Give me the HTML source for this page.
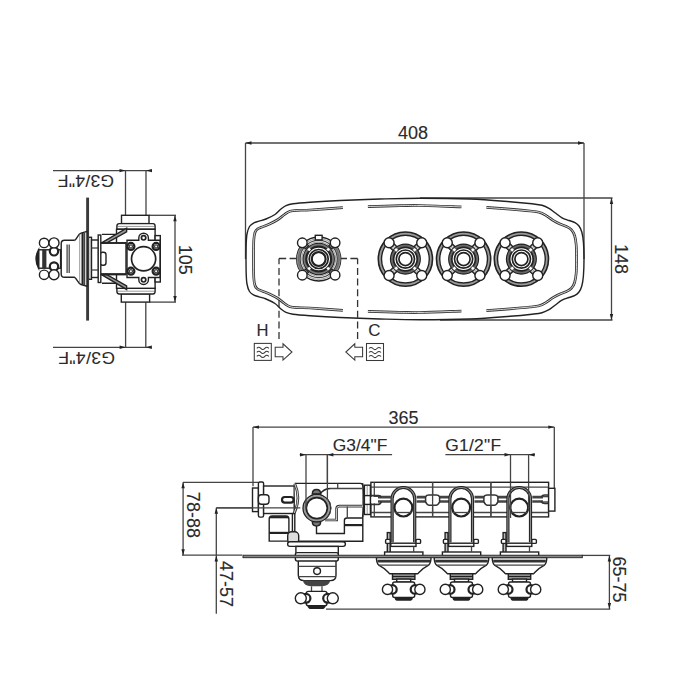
<!DOCTYPE html>
<html><head><meta charset="utf-8"><style>
html,body{margin:0;padding:0;background:#fff;width:700px;height:700px;overflow:hidden}
svg{display:block}
text{font-family:"Liberation Sans",sans-serif;fill:#2a2a2a;stroke:#2a2a2a;stroke-width:0.12}
.s{stroke:#222;stroke-width:1.4}
.t{stroke:#444;stroke-width:1.3;fill:none}
.k{stroke:#222;stroke-width:2.2}
.d{stroke:#333;stroke-width:2.7}
.dw{stroke:#fff;stroke-width:0.8;fill:none}
.h{stroke:#555;stroke-width:0.6}
.n{stroke:none}
.i{stroke:#3a3a3a;stroke-width:1.05}
.w{stroke:#333;stroke-width:2.3}
.m{stroke:#222;stroke-width:1.7}
.dashv{stroke:#333;stroke-width:1.3;fill:none;stroke-dasharray:7 3.7;stroke-dashoffset:1.3}
.dash{stroke:#333;stroke-width:1.3;fill:none;stroke-dasharray:7.2 3.4}
</style></head><body>
<svg width="700" height="700" viewBox="0 0 700 700">
<line x1="245.50" y1="143.00" x2="584.00" y2="143.00" class="t"/>
<path d="M245.50,143.00 L251.50,141.30 L251.50,144.70 Z" fill="#222"/>
<path d="M584.00,143.00 L578.00,144.70 L578.00,141.30 Z" fill="#222"/>
<line x1="245.50" y1="143.00" x2="245.50" y2="259.00" class="t"/>
<line x1="584.00" y1="143.00" x2="584.00" y2="259.00" class="t"/>
<text x="413.00" y="139.00" font-size="18.00" text-anchor="middle">408</text>
<line x1="420.00" y1="198.00" x2="612.50" y2="198.00" class="t"/>
<line x1="440.00" y1="320.00" x2="612.50" y2="320.00" class="t"/>
<line x1="611.50" y1="198.00" x2="611.50" y2="320.00" class="t"/>
<path d="M611.50,198.00 L613.20,204.00 L609.80,204.00 Z" fill="#222"/>
<path d="M611.50,320.00 L609.80,314.00 L613.20,314.00 Z" fill="#222"/>
<text x="615.00" y="259.00" font-size="18.00" text-anchor="middle" transform="rotate(90 615 259)">148</text>
<path d="M246.00,259.00 C246.03,256.50 246.03,248.17 246.20,244.00 C246.37,239.83 246.45,236.92 247.00,234.00 C247.55,231.08 248.33,228.37 249.50,226.50 C250.67,224.63 252.42,223.68 254.00,222.80 C255.58,221.92 257.00,221.83 259.00,221.20 C261.00,220.57 263.33,220.12 266.00,219.00 C268.67,217.88 272.50,216.17 275.00,214.50 C277.50,212.83 279.17,210.48 281.00,209.00 C282.83,207.52 284.00,206.47 286.00,205.60 C288.00,204.73 289.00,204.35 293.00,203.80 C297.00,203.25 302.17,202.85 310.00,202.30 C317.83,201.75 328.33,201.05 340.00,200.50 C351.67,199.95 366.67,199.38 380.00,199.00 C393.33,198.62 405.00,198.20 420.00,198.20 C435.00,198.20 455.00,198.42 470.00,199.00 C485.00,199.58 499.67,200.90 510.00,201.70 C520.33,202.50 526.67,203.20 532.00,203.80 C537.33,204.40 539.17,204.55 542.00,205.30 C544.83,206.05 546.83,207.05 549.00,208.30 C551.17,209.55 552.83,211.22 555.00,212.80 C557.17,214.38 559.67,216.52 562.00,217.80 C564.33,219.08 566.83,219.70 569.00,220.50 C571.17,221.30 573.33,221.68 575.00,222.60 C576.67,223.52 577.87,224.43 579.00,226.00 C580.13,227.57 581.07,229.33 581.80,232.00 C582.53,234.67 583.03,237.50 583.40,242.00 C583.77,246.50 584.00,253.33 584.00,259.00 C584.00,264.67 583.77,271.50 583.40,276.00 C583.03,280.50 582.53,283.33 581.80,286.00 C581.07,288.67 580.13,290.43 579.00,292.00 C577.87,293.57 576.67,294.48 575.00,295.40 C573.33,296.32 571.17,296.70 569.00,297.50 C566.83,298.30 564.33,298.92 562.00,300.20 C559.67,301.48 557.17,303.62 555.00,305.20 C552.83,306.78 551.17,308.45 549.00,309.70 C546.83,310.95 544.83,311.95 542.00,312.70 C539.17,313.45 537.33,313.60 532.00,314.20 C526.67,314.80 520.33,315.50 510.00,316.30 C499.67,317.10 485.00,318.42 470.00,319.00 C455.00,319.58 435.00,319.80 420.00,319.80 C405.00,319.80 393.33,319.38 380.00,319.00 C366.67,318.62 351.67,318.05 340.00,317.50 C328.33,316.95 317.83,316.25 310.00,315.70 C302.17,315.15 297.00,314.75 293.00,314.20 C289.00,313.65 288.00,313.27 286.00,312.40 C284.00,311.53 282.83,310.48 281.00,309.00 C279.17,307.52 277.50,305.17 275.00,303.50 C272.50,301.83 268.67,300.12 266.00,299.00 C263.33,297.88 261.00,297.43 259.00,296.80 C257.00,296.17 255.58,296.08 254.00,295.20 C252.42,294.32 250.67,293.37 249.50,291.50 C248.33,289.63 247.55,286.92 247.00,284.00 C246.45,281.08 246.37,278.17 246.20,274.00 C246.03,269.83 246.03,261.50 246.00,259.00 C245.97,256.50 245.97,261.50 246.00,259.00Z" class="s" fill="none"/>
<path d="M342.90,207.60 C337.42,208.00 317.48,209.55 310.00,210.00 C302.52,210.45 301.33,210.08 298.00,210.30 C294.67,210.52 292.25,210.60 290.00,211.30 C287.75,212.00 286.50,213.13 284.50,214.50 C282.50,215.87 280.42,217.95 278.00,219.50 C275.58,221.05 272.67,222.55 270.00,223.80 C267.33,225.05 264.08,226.13 262.00,227.00 C259.92,227.87 258.67,228.08 257.50,229.00 C256.33,229.92 255.62,230.67 255.00,232.50 C254.38,234.33 254.05,235.58 253.80,240.00 C253.55,244.42 253.50,252.67 253.50,259.00 C253.50,265.33 253.55,273.58 253.80,278.00 C254.05,282.42 254.38,283.67 255.00,285.50 C255.62,287.33 256.33,288.08 257.50,289.00 C258.67,289.92 259.92,290.13 262.00,291.00 C264.08,291.87 267.33,292.95 270.00,294.20 C272.67,295.45 275.58,296.95 278.00,298.50 C280.42,300.05 282.50,302.13 284.50,303.50 C286.50,304.87 287.75,306.00 290.00,306.70 C292.25,307.40 294.67,307.48 298.00,307.70 C301.33,307.92 302.52,307.55 310.00,308.00 C317.48,308.45 337.42,310.00 342.90,310.40" class="d" fill="none"/>
<path d="M342.90,207.60 C337.42,208.00 317.48,209.55 310.00,210.00 C302.52,210.45 301.33,210.08 298.00,210.30 C294.67,210.52 292.25,210.60 290.00,211.30 C287.75,212.00 286.50,213.13 284.50,214.50 C282.50,215.87 280.42,217.95 278.00,219.50 C275.58,221.05 272.67,222.55 270.00,223.80 C267.33,225.05 264.08,226.13 262.00,227.00 C259.92,227.87 258.67,228.08 257.50,229.00 C256.33,229.92 255.62,230.67 255.00,232.50 C254.38,234.33 254.05,235.58 253.80,240.00 C253.55,244.42 253.50,252.67 253.50,259.00 C253.50,265.33 253.55,273.58 253.80,278.00 C254.05,282.42 254.38,283.67 255.00,285.50 C255.62,287.33 256.33,288.08 257.50,289.00 C258.67,289.92 259.92,290.13 262.00,291.00 C264.08,291.87 267.33,292.95 270.00,294.20 C272.67,295.45 275.58,296.95 278.00,298.50 C280.42,300.05 282.50,302.13 284.50,303.50 C286.50,304.87 287.75,306.00 290.00,306.70 C292.25,307.40 294.67,307.48 298.00,307.70 C301.33,307.92 302.52,307.55 310.00,308.00 C317.48,308.45 337.42,310.00 342.90,310.40" class="dw" fill="none"/>
<path d="M367.90,206.60 C373.25,206.45 391.32,205.88 400.00,205.70 C408.68,205.52 409.77,205.30 420.00,205.50 C430.23,205.70 454.50,206.67 461.40,206.90" class="d" fill="none"/>
<path d="M367.90,311.40 C373.25,311.55 391.32,312.12 400.00,312.30 C408.68,312.48 409.77,312.70 420.00,312.50 C430.23,312.30 454.50,311.33 461.40,311.10" class="d" fill="none"/>
<path d="M367.90,206.60 C373.25,206.45 391.32,205.88 400.00,205.70 C408.68,205.52 409.77,205.30 420.00,205.50 C430.23,205.70 454.50,206.67 461.40,206.90" class="dw" fill="none"/>
<path d="M367.90,311.40 C373.25,311.55 391.32,312.12 400.00,312.30 C408.68,312.48 409.77,312.70 420.00,312.50 C430.23,312.30 454.50,311.33 461.40,311.10" class="dw" fill="none"/>
<path d="M486.40,207.40 C490.33,207.70 502.73,208.60 510.00,209.20 C517.27,209.80 525.17,210.50 530.00,211.00 C534.83,211.50 536.50,211.57 539.00,212.20 C541.50,212.83 542.67,213.45 545.00,214.80 C547.33,216.15 550.50,218.77 553.00,220.30 C555.50,221.83 557.75,222.97 560.00,224.00 C562.25,225.03 564.58,225.53 566.50,226.50 C568.42,227.47 570.15,228.30 571.50,229.80 C572.85,231.30 573.82,232.97 574.60,235.50 C575.38,238.03 575.88,241.08 576.20,245.00 C576.52,248.92 576.50,254.33 576.50,259.00 C576.50,263.67 576.52,269.08 576.20,273.00 C575.88,276.92 575.38,279.97 574.60,282.50 C573.82,285.03 572.85,286.70 571.50,288.20 C570.15,289.70 568.42,290.53 566.50,291.50 C564.58,292.47 562.25,292.97 560.00,294.00 C557.75,295.03 555.50,296.17 553.00,297.70 C550.50,299.23 547.33,301.85 545.00,303.20 C542.67,304.55 541.50,305.17 539.00,305.80 C536.50,306.43 534.83,306.50 530.00,307.00 C525.17,307.50 517.27,308.20 510.00,308.80 C502.73,309.40 490.33,310.30 486.40,310.60" class="d" fill="none"/>
<path d="M486.40,207.40 C490.33,207.70 502.73,208.60 510.00,209.20 C517.27,209.80 525.17,210.50 530.00,211.00 C534.83,211.50 536.50,211.57 539.00,212.20 C541.50,212.83 542.67,213.45 545.00,214.80 C547.33,216.15 550.50,218.77 553.00,220.30 C555.50,221.83 557.75,222.97 560.00,224.00 C562.25,225.03 564.58,225.53 566.50,226.50 C568.42,227.47 570.15,228.30 571.50,229.80 C572.85,231.30 573.82,232.97 574.60,235.50 C575.38,238.03 575.88,241.08 576.20,245.00 C576.52,248.92 576.50,254.33 576.50,259.00 C576.50,263.67 576.52,269.08 576.20,273.00 C575.88,276.92 575.38,279.97 574.60,282.50 C573.82,285.03 572.85,286.70 571.50,288.20 C570.15,289.70 568.42,290.53 566.50,291.50 C564.58,292.47 562.25,292.97 560.00,294.00 C557.75,295.03 555.50,296.17 553.00,297.70 C550.50,299.23 547.33,301.85 545.00,303.20 C542.67,304.55 541.50,305.17 539.00,305.80 C536.50,306.43 534.83,306.50 530.00,307.00 C525.17,307.50 517.27,308.20 510.00,308.80 C502.73,309.40 490.33,310.30 486.40,310.60" class="dw" fill="none"/>
<path d="M279,258.5 H297" class="dash" fill="none"/>
<path d="M279,258.5 V341" class="dashv" fill="none"/>
<path d="M357.6,258.5 H341" class="dash" fill="none"/>
<path d="M357.6,258.5 V341" class="dashv" fill="none"/>
<circle cx="318.70" cy="259.00" r="22.00" class="s" fill="#fff"/>
<path d="M300.68,271.62 A22.00,22.00 0 0 1 300.68,246.38 L303.14,248.10 A19.00,19.00 0 0 0 303.14,269.90 Z" fill="#8a8a8a"/>
<path d="M336.72,246.38 A22.00,22.00 0 0 1 336.72,271.62 L334.26,269.90 A19.00,19.00 0 0 0 334.26,248.10 Z" fill="#8a8a8a"/>
<circle cx="318.70" cy="259.00" r="20.30" class="h" fill="none"/>
<circle cx="318.70" cy="259.00" r="18.60" class="t" fill="none"/>
<circle cx="318.70" cy="259.00" r="17.00" class="h" fill="none"/>
<circle cx="318.70" cy="259.00" r="15.40" class="m" fill="none"/>
<circle cx="318.70" cy="259.00" r="13.9" fill="none" stroke="#777" stroke-width="2.6"/>
<circle cx="318.70" cy="259.00" r="12.40" class="k" fill="none"/>
<circle cx="318.70" cy="259.00" r="9.50" class="m" fill="none"/>
<circle cx="318.70" cy="259.00" r="6.90" class="k" fill="none"/>
<circle cx="318.70" cy="259.00" r="5.50" class="n" fill="#fff"/>
<rect x="326.88" y="267.18" width="2.6" height="2.6" fill="#fff" transform="rotate(45 328.18 268.48)"/>
<path d="M328.88,272.15 L332.06,275.33 L335.03,272.36 L331.85,269.18 Z" class="s" fill="#fff"/>
<line x1="331.36" y1="269.68" x2="334.54" y2="272.86" class="h"/>
<line x1="330.70" y1="270.34" x2="333.88" y2="273.52" class="h"/>
<line x1="330.04" y1="271.00" x2="333.22" y2="274.18" class="h"/>
<line x1="329.38" y1="271.66" x2="332.56" y2="274.84" class="h"/>
<rect x="307.92" y="267.18" width="2.6" height="2.6" fill="#fff" transform="rotate(45 309.22 268.48)"/>
<path d="M305.55,269.18 L302.37,272.36 L305.34,275.33 L308.52,272.15 Z" class="s" fill="#fff"/>
<line x1="308.02" y1="271.66" x2="304.84" y2="274.84" class="h"/>
<line x1="307.36" y1="271.00" x2="304.18" y2="274.18" class="h"/>
<line x1="306.70" y1="270.34" x2="303.52" y2="273.52" class="h"/>
<line x1="306.04" y1="269.68" x2="302.86" y2="272.86" class="h"/>
<rect x="307.92" y="248.22" width="2.6" height="2.6" fill="#fff" transform="rotate(45 309.22 249.52)"/>
<path d="M308.52,245.85 L305.34,242.67 L302.37,245.64 L305.55,248.82 Z" class="s" fill="#fff"/>
<line x1="306.04" y1="248.32" x2="302.86" y2="245.14" class="h"/>
<line x1="306.70" y1="247.66" x2="303.52" y2="244.48" class="h"/>
<line x1="307.36" y1="247.00" x2="304.18" y2="243.82" class="h"/>
<line x1="308.02" y1="246.34" x2="304.84" y2="243.16" class="h"/>
<rect x="326.88" y="248.22" width="2.6" height="2.6" fill="#fff" transform="rotate(45 328.18 249.52)"/>
<path d="M331.85,248.82 L335.03,245.64 L332.06,242.67 L328.88,245.85 Z" class="s" fill="#fff"/>
<line x1="329.38" y1="246.34" x2="332.56" y2="243.16" class="h"/>
<line x1="330.04" y1="247.00" x2="333.22" y2="243.82" class="h"/>
<line x1="330.70" y1="247.66" x2="333.88" y2="244.48" class="h"/>
<line x1="331.36" y1="248.32" x2="334.54" y2="245.14" class="h"/>
<circle cx="302.30" cy="242.80" r="4.80" class="s" fill="#fff"/>
<circle cx="335.10" cy="242.80" r="4.80" class="s" fill="#fff"/>
<circle cx="302.30" cy="275.20" r="4.80" class="s" fill="#fff"/>
<circle cx="335.10" cy="275.20" r="4.80" class="s" fill="#fff"/>
<rect x="315.30" y="235.30" width="6.80" height="4.60" rx="0.00" class="s" fill="#fff"/>
<circle cx="405.40" cy="259.10" r="26.80" class="k" fill="#fff"/>
<circle cx="405.40" cy="259.10" r="25.3" fill="none" stroke="#999" stroke-width="2"/>
<circle cx="405.40" cy="259.10" r="23.90" class="s" fill="none"/>
<path d="M412.68,270.20 L418.34,275.86 L422.16,272.04 L416.50,266.38 Z" class="s" fill="#fff"/>
<line x1="415.87" y1="267.02" x2="421.52" y2="272.68" class="h"/>
<line x1="415.02" y1="267.87" x2="420.67" y2="273.52" class="h"/>
<line x1="414.17" y1="268.72" x2="419.82" y2="274.37" class="h"/>
<line x1="413.32" y1="269.57" x2="418.98" y2="275.22" class="h"/>
<path d="M394.30,266.38 L388.64,272.04 L392.46,275.86 L398.12,270.20 Z" class="s" fill="#fff"/>
<line x1="397.48" y1="269.57" x2="391.82" y2="275.22" class="h"/>
<line x1="396.63" y1="268.72" x2="390.98" y2="274.37" class="h"/>
<line x1="395.78" y1="267.87" x2="390.13" y2="273.52" class="h"/>
<line x1="394.93" y1="267.02" x2="389.28" y2="272.68" class="h"/>
<path d="M398.12,248.00 L392.46,242.34 L388.64,246.16 L394.30,251.82 Z" class="s" fill="#fff"/>
<line x1="394.93" y1="251.18" x2="389.28" y2="245.52" class="h"/>
<line x1="395.78" y1="250.33" x2="390.13" y2="244.68" class="h"/>
<line x1="396.63" y1="249.48" x2="390.98" y2="243.83" class="h"/>
<line x1="397.48" y1="248.63" x2="391.82" y2="242.98" class="h"/>
<path d="M416.50,251.82 L422.16,246.16 L418.34,242.34 L412.68,248.00 Z" class="s" fill="#fff"/>
<line x1="413.32" y1="248.63" x2="418.98" y2="242.98" class="h"/>
<line x1="414.17" y1="249.48" x2="419.82" y2="243.83" class="h"/>
<line x1="415.02" y1="250.33" x2="420.67" y2="244.68" class="h"/>
<line x1="415.87" y1="251.18" x2="421.52" y2="245.52" class="h"/>
<circle cx="405.40" cy="259.10" r="14.70" class="m" fill="#fff"/>
<circle cx="405.40" cy="259.10" r="13.20" class="n" fill="none"/>
<circle cx="405.40" cy="259.10" r="13.2" fill="none" stroke="#666" stroke-width="2.4"/>
<circle cx="405.40" cy="259.10" r="11.80" class="m" fill="none"/>
<rect x="413.16" y="266.86" width="3" height="3" fill="#fff" stroke="#333" stroke-width="0.4" transform="rotate(45 414.66 268.36)"/>
<rect x="394.64" y="266.86" width="3" height="3" fill="#fff" stroke="#333" stroke-width="0.4" transform="rotate(45 396.14 268.36)"/>
<rect x="394.64" y="248.34" width="3" height="3" fill="#fff" stroke="#333" stroke-width="0.4" transform="rotate(45 396.14 249.84)"/>
<rect x="413.16" y="248.34" width="3" height="3" fill="#fff" stroke="#333" stroke-width="0.4" transform="rotate(45 414.66 249.84)"/>
<circle cx="405.40" cy="259.10" r="9.10" class="m" fill="none"/>
<circle cx="405.40" cy="259.10" r="6.50" class="m" fill="#fff"/>
<circle cx="421.73" cy="275.43" r="5.00" class="s" fill="#fff"/>
<circle cx="389.07" cy="275.43" r="5.00" class="s" fill="#fff"/>
<circle cx="389.07" cy="242.77" r="5.00" class="s" fill="#fff"/>
<circle cx="421.73" cy="242.77" r="5.00" class="s" fill="#fff"/>
<circle cx="463.60" cy="259.10" r="26.80" class="k" fill="#fff"/>
<circle cx="463.60" cy="259.10" r="25.3" fill="none" stroke="#999" stroke-width="2"/>
<circle cx="463.60" cy="259.10" r="23.90" class="s" fill="none"/>
<path d="M470.88,270.20 L476.54,275.86 L480.36,272.04 L474.70,266.38 Z" class="s" fill="#fff"/>
<line x1="474.07" y1="267.02" x2="479.72" y2="272.68" class="h"/>
<line x1="473.22" y1="267.87" x2="478.87" y2="273.52" class="h"/>
<line x1="472.37" y1="268.72" x2="478.02" y2="274.37" class="h"/>
<line x1="471.52" y1="269.57" x2="477.18" y2="275.22" class="h"/>
<path d="M452.50,266.38 L446.84,272.04 L450.66,275.86 L456.32,270.20 Z" class="s" fill="#fff"/>
<line x1="455.68" y1="269.57" x2="450.02" y2="275.22" class="h"/>
<line x1="454.83" y1="268.72" x2="449.18" y2="274.37" class="h"/>
<line x1="453.98" y1="267.87" x2="448.33" y2="273.52" class="h"/>
<line x1="453.13" y1="267.02" x2="447.48" y2="272.68" class="h"/>
<path d="M456.32,248.00 L450.66,242.34 L446.84,246.16 L452.50,251.82 Z" class="s" fill="#fff"/>
<line x1="453.13" y1="251.18" x2="447.48" y2="245.52" class="h"/>
<line x1="453.98" y1="250.33" x2="448.33" y2="244.68" class="h"/>
<line x1="454.83" y1="249.48" x2="449.18" y2="243.83" class="h"/>
<line x1="455.68" y1="248.63" x2="450.02" y2="242.98" class="h"/>
<path d="M474.70,251.82 L480.36,246.16 L476.54,242.34 L470.88,248.00 Z" class="s" fill="#fff"/>
<line x1="471.52" y1="248.63" x2="477.18" y2="242.98" class="h"/>
<line x1="472.37" y1="249.48" x2="478.02" y2="243.83" class="h"/>
<line x1="473.22" y1="250.33" x2="478.87" y2="244.68" class="h"/>
<line x1="474.07" y1="251.18" x2="479.72" y2="245.52" class="h"/>
<circle cx="463.60" cy="259.10" r="14.70" class="m" fill="#fff"/>
<circle cx="463.60" cy="259.10" r="13.20" class="n" fill="none"/>
<circle cx="463.60" cy="259.10" r="13.2" fill="none" stroke="#666" stroke-width="2.4"/>
<circle cx="463.60" cy="259.10" r="11.80" class="m" fill="none"/>
<rect x="471.36" y="266.86" width="3" height="3" fill="#fff" stroke="#333" stroke-width="0.4" transform="rotate(45 472.86 268.36)"/>
<rect x="452.84" y="266.86" width="3" height="3" fill="#fff" stroke="#333" stroke-width="0.4" transform="rotate(45 454.34 268.36)"/>
<rect x="452.84" y="248.34" width="3" height="3" fill="#fff" stroke="#333" stroke-width="0.4" transform="rotate(45 454.34 249.84)"/>
<rect x="471.36" y="248.34" width="3" height="3" fill="#fff" stroke="#333" stroke-width="0.4" transform="rotate(45 472.86 249.84)"/>
<circle cx="463.60" cy="259.10" r="9.10" class="m" fill="none"/>
<circle cx="463.60" cy="259.10" r="6.50" class="m" fill="#fff"/>
<circle cx="479.93" cy="275.43" r="5.00" class="s" fill="#fff"/>
<circle cx="447.27" cy="275.43" r="5.00" class="s" fill="#fff"/>
<circle cx="447.27" cy="242.77" r="5.00" class="s" fill="#fff"/>
<circle cx="479.93" cy="242.77" r="5.00" class="s" fill="#fff"/>
<circle cx="521.40" cy="259.10" r="26.80" class="k" fill="#fff"/>
<circle cx="521.40" cy="259.10" r="25.3" fill="none" stroke="#999" stroke-width="2"/>
<circle cx="521.40" cy="259.10" r="23.90" class="s" fill="none"/>
<path d="M528.68,270.20 L534.34,275.86 L538.16,272.04 L532.50,266.38 Z" class="s" fill="#fff"/>
<line x1="531.87" y1="267.02" x2="537.52" y2="272.68" class="h"/>
<line x1="531.02" y1="267.87" x2="536.67" y2="273.52" class="h"/>
<line x1="530.17" y1="268.72" x2="535.82" y2="274.37" class="h"/>
<line x1="529.32" y1="269.57" x2="534.98" y2="275.22" class="h"/>
<path d="M510.30,266.38 L504.64,272.04 L508.46,275.86 L514.12,270.20 Z" class="s" fill="#fff"/>
<line x1="513.48" y1="269.57" x2="507.82" y2="275.22" class="h"/>
<line x1="512.63" y1="268.72" x2="506.98" y2="274.37" class="h"/>
<line x1="511.78" y1="267.87" x2="506.13" y2="273.52" class="h"/>
<line x1="510.93" y1="267.02" x2="505.28" y2="272.68" class="h"/>
<path d="M514.12,248.00 L508.46,242.34 L504.64,246.16 L510.30,251.82 Z" class="s" fill="#fff"/>
<line x1="510.93" y1="251.18" x2="505.28" y2="245.52" class="h"/>
<line x1="511.78" y1="250.33" x2="506.13" y2="244.68" class="h"/>
<line x1="512.63" y1="249.48" x2="506.98" y2="243.83" class="h"/>
<line x1="513.48" y1="248.63" x2="507.82" y2="242.98" class="h"/>
<path d="M532.50,251.82 L538.16,246.16 L534.34,242.34 L528.68,248.00 Z" class="s" fill="#fff"/>
<line x1="529.32" y1="248.63" x2="534.98" y2="242.98" class="h"/>
<line x1="530.17" y1="249.48" x2="535.82" y2="243.83" class="h"/>
<line x1="531.02" y1="250.33" x2="536.67" y2="244.68" class="h"/>
<line x1="531.87" y1="251.18" x2="537.52" y2="245.52" class="h"/>
<circle cx="521.40" cy="259.10" r="14.70" class="m" fill="#fff"/>
<circle cx="521.40" cy="259.10" r="13.20" class="n" fill="none"/>
<circle cx="521.40" cy="259.10" r="13.2" fill="none" stroke="#666" stroke-width="2.4"/>
<circle cx="521.40" cy="259.10" r="11.80" class="m" fill="none"/>
<rect x="529.16" y="266.86" width="3" height="3" fill="#fff" stroke="#333" stroke-width="0.4" transform="rotate(45 530.66 268.36)"/>
<rect x="510.64" y="266.86" width="3" height="3" fill="#fff" stroke="#333" stroke-width="0.4" transform="rotate(45 512.14 268.36)"/>
<rect x="510.64" y="248.34" width="3" height="3" fill="#fff" stroke="#333" stroke-width="0.4" transform="rotate(45 512.14 249.84)"/>
<rect x="529.16" y="248.34" width="3" height="3" fill="#fff" stroke="#333" stroke-width="0.4" transform="rotate(45 530.66 249.84)"/>
<circle cx="521.40" cy="259.10" r="9.10" class="m" fill="none"/>
<circle cx="521.40" cy="259.10" r="6.50" class="m" fill="#fff"/>
<circle cx="537.73" cy="275.43" r="5.00" class="s" fill="#fff"/>
<circle cx="505.07" cy="275.43" r="5.00" class="s" fill="#fff"/>
<circle cx="505.07" cy="242.77" r="5.00" class="s" fill="#fff"/>
<circle cx="537.73" cy="242.77" r="5.00" class="s" fill="#fff"/>
<text x="262.60" y="336.10" font-size="16.60" text-anchor="middle">H</text>
<text x="374.40" y="336.20" font-size="16.90" text-anchor="middle">C</text>
<rect x="254.30" y="343.40" width="17.00" height="17.00" rx="0.00" class="i" fill="#fff"/>
<path d="M256.8,348.4 q2,-2.2 4,0 t4,0 t4,0" class="i" fill="none"/>
<path d="M256.8,352.4 q2,-2.2 4,0 t4,0 t4,0" class="i" fill="none"/>
<path d="M256.8,356.4 q2,-2.2 4,0 t4,0 t4,0" class="i" fill="none"/>
<rect x="366.50" y="343.50" width="17.00" height="17.00" rx="0.00" class="i" fill="#fff"/>
<path d="M369.0,348.5 q2,-2.2 4,0 t4,0 t4,0" class="i" fill="none"/>
<path d="M369.0,352.5 q2,-2.2 4,0 t4,0 t4,0" class="i" fill="none"/>
<path d="M369.0,356.5 q2,-2.2 4,0 t4,0 t4,0" class="i" fill="none"/>
<path d="M275.2,347.3 H283 V343.8 L292,352 L283,360.1 V356.7 H275.2 Z" class="i" fill="#fff"/>
<path d="M362.6,347.3 H354.8 V343.8 L345.8,352 L354.8,360.1 V356.7 H362.6 Z" class="i" fill="#fff"/>
<line x1="53.00" y1="170.60" x2="152.00" y2="170.60" class="t"/>
<path d="M125.50,170.60 L119.50,172.30 L119.50,168.90 Z" fill="#222"/>
<path d="M146.00,170.60 L152.00,168.90 L152.00,172.30 Z" fill="#222"/>
<line x1="125.50" y1="170.60" x2="125.50" y2="215.30" class="t"/>
<line x1="146.00" y1="170.60" x2="146.00" y2="215.30" class="t"/>
<text x="85.80" y="174.80" font-size="17.40" text-anchor="middle" transform="rotate(180 85.8 174.8)" letter-spacing="0.35">G3/4"F</text>
<line x1="53.00" y1="347.30" x2="151.60" y2="347.30" class="t"/>
<path d="M125.60,347.30 L119.60,349.00 L119.60,345.60 Z" fill="#222"/>
<path d="M145.80,347.30 L151.80,345.60 L151.80,349.00 Z" fill="#222"/>
<line x1="125.60" y1="302.10" x2="125.60" y2="347.30" class="t"/>
<line x1="145.80" y1="302.10" x2="145.80" y2="347.30" class="t"/>
<text x="86.40" y="351.90" font-size="17.40" text-anchor="middle" transform="rotate(180 86.4 351.9)" letter-spacing="0.45">G3/4"F</text>
<line x1="149.00" y1="215.30" x2="176.00" y2="215.30" class="t"/>
<line x1="149.60" y1="302.10" x2="176.00" y2="302.10" class="t"/>
<line x1="175.00" y1="215.30" x2="175.00" y2="302.10" class="t"/>
<path d="M175.00,215.30 L176.70,221.30 L173.30,221.30 Z" fill="#222"/>
<path d="M175.00,302.10 L173.30,296.10 L176.70,296.10 Z" fill="#222"/>
<text x="179.00" y="259.80" font-size="18.00" text-anchor="middle" transform="rotate(90 179 259.8)">105</text>
<rect x="121.50" y="215.30" width="27.50" height="8.30" rx="0.00" class="s" fill="#fff"/>
<rect x="121.30" y="293.80" width="28.30" height="8.30" rx="0.00" class="s" fill="#fff"/>
<path d="M116.9,229.3 V226 Q116.9,223.6 119.3,223.6 H153 Q155.1,223.6 155.1,226 V229.3 Z" class="s" fill="#fff"/>
<line x1="117.00" y1="226.40" x2="155.00" y2="226.40" class="h"/>
<path d="M116.9,288.3 V291.6 Q116.9,294 119.3,294 H153 Q155.1,294 155.1,291.6 V288.3 Z" class="s" fill="#fff"/>
<line x1="117.00" y1="291.20" x2="155.00" y2="291.20" class="h"/>
<rect x="116.50" y="229.30" width="38.60" height="59.00" rx="0.00" class="s" fill="#fff"/>
<rect x="155.10" y="235.60" width="5.20" height="46.40" rx="0.00" class="s" fill="#fff"/>
<rect x="99.00" y="242.80" width="27.00" height="31.50" rx="0.00" class="s" fill="#fff"/>
<path d="M102,234.4 H117 M102,283.2 H117" class="s" fill="none"/>
<path d="M101.5,242.8 L126.6,228.2 L126.6,231.8 L106.5,243 Z" class="s" fill="#999"/>
<path d="M101.5,274.6 L126.6,289.4 L126.6,285.8 L106.5,274.4 Z" class="s" fill="#999"/>
<line x1="101.00" y1="274.30" x2="126.00" y2="274.30" class="k"/>
<line x1="101.00" y1="243.20" x2="126.00" y2="243.20" class="s"/>
<rect x="100.00" y="252.20" width="6.00" height="13.00" rx="2.50" class="s" fill="#fff"/>
<path d="M127,240.2 H138.8 V238 A4.8,4.8 0 0 1 148.4,238 V240.2 H160 V277.5 H148.4 V279.7 A4.8,4.8 0 0 1 138.8,279.7 V277.5 H127 Z" class="s" fill="#fff"/>
<circle cx="130.90" cy="246.40" r="3.50" class="k" fill="#fff"/>
<circle cx="130.90" cy="246.40" r="1.60" class="t" fill="none"/>
<circle cx="156.10" cy="246.40" r="3.50" class="k" fill="#fff"/>
<circle cx="156.10" cy="246.40" r="1.60" class="t" fill="none"/>
<circle cx="130.90" cy="271.20" r="3.50" class="k" fill="#fff"/>
<circle cx="130.90" cy="271.20" r="1.60" class="t" fill="none"/>
<circle cx="156.10" cy="271.20" r="3.50" class="k" fill="#fff"/>
<circle cx="156.10" cy="271.20" r="1.60" class="t" fill="none"/>
<circle cx="143.60" cy="237.80" r="2.20" class="m" fill="none"/>
<circle cx="143.60" cy="279.80" r="2.20" class="m" fill="none"/>
<circle cx="143.60" cy="258.80" r="12.10" class="m" fill="#fff"/>
<rect x="88.50" y="237.30" width="3.00" height="42.00" rx="0.00" class="s" fill="#fff"/>
<rect x="91.50" y="240.00" width="7.00" height="37.50" rx="0.00" class="s" fill="#fff"/>
<line x1="91.50" y1="248.00" x2="98.50" y2="248.00" class="t"/>
<line x1="91.50" y1="270.00" x2="98.50" y2="270.00" class="t"/>
<rect x="98.20" y="235.00" width="2.60" height="47.50" rx="0.00" class="s" fill="#fff"/>
<line x1="87.6" y1="197.6" x2="87.6" y2="320.6" stroke="#3a3a3a" stroke-width="2.9"/>
<path d="M87,231.4 L81,233.1 C78,234 77,239 74.6,240.3 C72,241.5 70,242.5 69.4,245.5 V272.1 C70,275.1 72,276.1 74.6,277.3 C77,278.6 78,283.6 81,284.5 L87,286.2 Z" class="s" fill="#fff"/>
<line x1="79.70" y1="234.00" x2="79.70" y2="283.60" class="h"/>
<line x1="82.60" y1="232.80" x2="82.60" y2="284.80" class="k"/>
<line x1="84.60" y1="232.20" x2="84.60" y2="285.40" class="t"/>
<path d="M74.6,240.3 H64.5 Q61.2,240.3 61.2,243.6 V274 Q61.2,277.3 64.5,277.3 H74.6" class="s" fill="#fff"/>
<line x1="67.10" y1="244.50" x2="67.10" y2="273.10" class="t"/>
<line x1="69.20" y1="244.50" x2="69.20" y2="273.10" class="t"/>
<rect x="38.60" y="249.80" width="22.00" height="18.40" rx="0.00" class="s" fill="#fff"/>
<path d="M38.6,249.8 Q33.5,259 38.6,268.2 Z" class="s" fill="#222"/>
<rect x="42.20" y="250.00" width="4.20" height="18.00" rx="0.00" class="n" fill="#333"/>
<circle cx="54.00" cy="251.30" r="4.20" class="k" fill="#fff"/>
<circle cx="54.00" cy="266.50" r="4.20" class="k" fill="#fff"/>
<circle cx="44.10" cy="242.90" r="4.70" class="s" fill="#fff"/>
<circle cx="54.00" cy="242.90" r="5.00" class="s" fill="#fff"/>
<circle cx="44.10" cy="274.80" r="4.70" class="s" fill="#fff"/>
<circle cx="54.00" cy="274.80" r="5.00" class="s" fill="#fff"/>
<line x1="253.00" y1="427.10" x2="554.30" y2="427.10" class="t"/>
<path d="M253.00,427.10 L259.00,425.40 L259.00,428.80 Z" fill="#222"/>
<path d="M554.30,427.10 L548.30,428.80 L548.30,425.40 Z" fill="#222"/>
<line x1="253.00" y1="427.10" x2="253.00" y2="486.30" class="t"/>
<line x1="554.30" y1="427.10" x2="554.30" y2="490.00" class="t"/>
<text x="403.60" y="423.60" font-size="18.00" text-anchor="middle">365</text>
<line x1="299.70" y1="454.70" x2="392.10" y2="454.70" class="t"/>
<path d="M306.00,454.70 L300.00,456.40 L300.00,453.00 Z" fill="#222"/>
<path d="M327.40,454.70 L333.40,453.00 L333.40,456.40 Z" fill="#222"/>
<line x1="306.00" y1="454.70" x2="306.00" y2="508.00" class="t"/>
<line x1="327.40" y1="454.70" x2="327.40" y2="500.00" class="t"/>
<text x="332.80" y="451.40" font-size="17.40" text-anchor="start" letter-spacing="0">G3/4"F</text>
<line x1="445.40" y1="454.70" x2="535.00" y2="454.70" class="t"/>
<path d="M510.50,454.70 L504.50,456.40 L504.50,453.00 Z" fill="#222"/>
<path d="M528.60,454.70 L534.60,453.00 L534.60,456.40 Z" fill="#222"/>
<line x1="510.50" y1="454.70" x2="510.50" y2="500.00" class="t"/>
<line x1="528.60" y1="454.70" x2="528.60" y2="500.00" class="t"/>
<text x="445.30" y="451.40" font-size="17.40" text-anchor="start" letter-spacing="0.25">G1/2"F</text>
<line x1="183.00" y1="482.30" x2="258.00" y2="482.30" class="t"/>
<line x1="182.00" y1="555.20" x2="242.20" y2="555.20" class="t"/>
<line x1="183.10" y1="482.30" x2="183.10" y2="555.20" class="t"/>
<path d="M183.10,482.30 L184.80,488.30 L181.40,488.30 Z" fill="#222"/>
<path d="M183.10,555.20 L181.40,549.20 L184.80,549.20 Z" fill="#222"/>
<text x="187.00" y="514.90" font-size="18.00" text-anchor="middle" transform="rotate(90 187 514.9)">78-88</text>
<line x1="216.30" y1="507.80" x2="300.30" y2="507.80" class="t"/>
<line x1="216.30" y1="507.80" x2="216.30" y2="613.70" class="t"/>
<path d="M216.30,507.80 L218.00,513.80 L214.60,513.80 Z" fill="#222"/>
<path d="M216.30,555.40 L218.00,561.40 L214.60,561.40 Z" fill="#222"/>
<text x="220.40" y="584.00" font-size="18.00" text-anchor="middle" transform="rotate(90 220.4 584)">47-57</text>
<line x1="582.00" y1="555.40" x2="610.30" y2="555.40" class="t"/>
<line x1="326.00" y1="609.10" x2="610.30" y2="609.10" class="t"/>
<line x1="609.40" y1="555.40" x2="609.40" y2="609.10" class="t"/>
<path d="M609.40,555.40 L611.10,561.40 L607.70,561.40 Z" fill="#222"/>
<path d="M609.40,609.10 L607.70,603.10 L611.10,603.10 Z" fill="#222"/>
<text x="613.00" y="579.60" font-size="18.00" text-anchor="middle" transform="rotate(90 613 579.6)">65-75</text>
<rect x="370.90" y="482.30" width="177.70" height="34.60" rx="0.00" class="s" fill="#fff"/>
<line x1="370.90" y1="487.20" x2="548.60" y2="487.20" class="t"/>
<line x1="370.90" y1="512.50" x2="548.60" y2="512.50" class="t"/>
<line x1="374.30" y1="482.30" x2="374.30" y2="516.90" class="t"/>
<line x1="432.60" y1="482.30" x2="432.60" y2="516.90" class="t"/>
<line x1="490.90" y1="482.30" x2="490.90" y2="516.90" class="t"/>
<path d="M374.3,497.1 H390.9 M374.3,501.5 H390.9" stroke="#444" stroke-width="2.6"/>
<path d="M416.6,497.1 H449.3 M416.6,501.5 H449.3" stroke="#444" stroke-width="2.6"/>
<path d="M474.5,497.1 H507.3 M474.5,501.5 H507.3" stroke="#444" stroke-width="2.6"/>
<path d="M532.3,497.1 H548.6 M532.3,501.5 H548.6" stroke="#444" stroke-width="2.6"/>
<path d="M425.6,496.8 C426.6,494.8 427.6,494.9 429.1,494.9 H436.1 C437.6,494.9 438.6,494.8 439.6,496.8 V501.8 C438.6,503.8 437.6,505.2 436.1,505.2 H429.1 C427.6,505.2 426.6,503.8 425.6,501.8 Z" stroke="#333" stroke-width="1.5" fill="#fff"/>
<line x1="432.60" y1="482.30" x2="432.60" y2="516.90" class="t"/>
<path d="M483.9,496.8 C484.9,494.8 485.9,494.9 487.4,494.9 H494.4 C495.9,494.9 496.9,494.8 497.9,496.8 V501.8 C496.9,503.8 495.9,505.2 494.4,505.2 H487.4 C485.9,505.2 484.9,503.8 483.9,501.8 Z" stroke="#333" stroke-width="1.5" fill="#fff"/>
<line x1="490.90" y1="482.30" x2="490.90" y2="516.90" class="t"/>
<path d="M370.9,495.6 H378.5 Q380.5,495.6 381.4,497.3 M370.9,504.4 H378.5 Q380.5,504.4 381.4,501.5" stroke="#333" stroke-width="1.6" fill="none"/>
<rect x="371" y="497" width="7" height="6.2" fill="#fff"/>
<path d="M541,497.1 Q542.5,495 544.5,495 H548.6 M541,501.5 Q542.5,503.6 544.5,503.6 H548.6" stroke="#333" stroke-width="1.5" fill="none"/>
<rect x="543" y="497.3" width="5" height="4" fill="#fff"/>
<rect x="548.60" y="488.30" width="6.30" height="22.80" rx="0.00" class="s" fill="#fff"/>
<path d="M392.10,542.3 V498.8 A11.3,11.3 0 0 1 414.70,498.8 V542.3" stroke="#222" stroke-width="3.2" fill="#fff"/>
<path d="M392.10,542.3 V498.8 A11.3,11.3 0 0 1 414.70,498.8 V542.3" stroke="#8a8a8a" stroke-width="1.1" fill="none"/>
<circle cx="403.40" cy="507.60" r="8.90" class="k" fill="#fff"/>
<line x1="394.80" y1="512.50" x2="412.00" y2="512.50" class="t"/>
<rect x="390.80" y="543.20" width="25.20" height="3.20" rx="0.00" class="s" fill="#fff"/>
<rect x="387.30" y="532.60" width="2.90" height="21.70" rx="0.00" class="s" fill="#bbb"/>
<rect x="385.60" y="539.40" width="4.60" height="4.00" rx="1.00" class="s" fill="#fff"/>
<rect x="416.00" y="539.40" width="4.60" height="4.00" rx="1.00" class="s" fill="#fff"/>
<rect x="384.60" y="552.00" width="38.30" height="4.00" rx="0.00" class="s" fill="#fff"/>
<line x1="413.70" y1="546.40" x2="413.70" y2="552.00" class="t"/>
<path d="M449.90,542.3 V498.8 A11.3,11.3 0 0 1 472.50,498.8 V542.3" stroke="#222" stroke-width="3.2" fill="#fff"/>
<path d="M449.90,542.3 V498.8 A11.3,11.3 0 0 1 472.50,498.8 V542.3" stroke="#8a8a8a" stroke-width="1.1" fill="none"/>
<circle cx="461.20" cy="507.60" r="8.90" class="k" fill="#fff"/>
<line x1="452.60" y1="512.50" x2="469.80" y2="512.50" class="t"/>
<rect x="448.60" y="543.20" width="25.20" height="3.20" rx="0.00" class="s" fill="#fff"/>
<rect x="445.10" y="532.60" width="2.90" height="21.70" rx="0.00" class="s" fill="#bbb"/>
<rect x="443.40" y="539.40" width="4.60" height="4.00" rx="1.00" class="s" fill="#fff"/>
<rect x="473.80" y="539.40" width="4.60" height="4.00" rx="1.00" class="s" fill="#fff"/>
<rect x="442.40" y="552.00" width="38.30" height="4.00" rx="0.00" class="s" fill="#fff"/>
<line x1="471.50" y1="546.40" x2="471.50" y2="552.00" class="t"/>
<path d="M507.90,542.3 V498.8 A11.3,11.3 0 0 1 530.50,498.8 V542.3" stroke="#222" stroke-width="3.2" fill="#fff"/>
<path d="M507.90,542.3 V498.8 A11.3,11.3 0 0 1 530.50,498.8 V542.3" stroke="#8a8a8a" stroke-width="1.1" fill="none"/>
<circle cx="519.20" cy="507.60" r="8.90" class="k" fill="#fff"/>
<line x1="510.60" y1="512.50" x2="527.80" y2="512.50" class="t"/>
<rect x="506.60" y="543.20" width="25.20" height="3.20" rx="0.00" class="s" fill="#fff"/>
<rect x="503.10" y="532.60" width="2.90" height="21.70" rx="0.00" class="s" fill="#bbb"/>
<rect x="501.40" y="539.40" width="4.60" height="4.00" rx="1.00" class="s" fill="#fff"/>
<rect x="531.80" y="539.40" width="4.60" height="4.00" rx="1.00" class="s" fill="#fff"/>
<rect x="500.40" y="552.00" width="38.30" height="4.00" rx="0.00" class="s" fill="#fff"/>
<line x1="529.50" y1="546.40" x2="529.50" y2="552.00" class="t"/>
<rect x="252.50" y="488.00" width="6.00" height="23.60" rx="0.00" class="s" fill="#fff"/>
<rect x="258.40" y="482.00" width="5.20" height="35.10" rx="1.50" class="s" fill="#fff"/>
<rect x="263.60" y="486.00" width="30.60" height="27.50" rx="0.00" class="s" fill="#fff"/>
<rect x="258.40" y="494.80" width="10.60" height="9.50" rx="3.00" class="s" fill="#fff"/>
<rect x="282.00" y="497.00" width="11.60" height="5.60" rx="2.80" class="k" fill="#fff"/>
<path d="M269.2,541.1 V519 Q269.2,516 272.2,516 H285.9 Q288.9,516 288.9,519 V541.1 Z" class="s" fill="#fff"/>
<line x1="269.20" y1="532.90" x2="288.90" y2="532.90" class="k"/>
<line x1="270.00" y1="517.20" x2="288.00" y2="517.20" class="k"/>
<path d="M294.6,483.4 H360.3 Q362.8,483.4 362.8,486 V541.2 H296" class="s" fill="#fff"/>
<path d="M294.6,483.4 Q301.5,498.3 294,513.6" class="d" fill="none"/>
<path d="M294.6,483.4 Q301.5,498.3 294,513.6" class="dw" fill="none"/>
<line x1="330.00" y1="488.50" x2="362.80" y2="488.50" class="t"/>
<line x1="337.70" y1="483.40" x2="337.70" y2="488.50" class="t"/>
<path d="M316.5,524 V533.5 H344.4 V520.5 Q344.4,518 347,518 H362.8" class="s" fill="none"/>
<path d="M325,520 H336.6 V509 Q336.6,506.2 339.4,506.2 H362.8" class="d" fill="none"/>
<path d="M325,520 H336.6 V509 Q336.6,506.2 339.4,506.2 H362.8" class="dw" fill="none"/>
<line x1="347.30" y1="506.50" x2="347.30" y2="518.00" class="t"/>
<line x1="344.40" y1="525.10" x2="362.80" y2="525.10" class="k"/>
<path d="M312.3,494 Q312.3,489.5 316.5,489.5 Q320.7,489.5 320.7,494 Z" class="s" fill="#777"/>
<path d="M312.3,521.6 Q312.3,526.1 316.5,526.1 Q320.7,526.1 320.7,521.6 Z" class="s" fill="#777"/>
<path d="M320,494.5 Q323,489 330,488.5" class="s" fill="none"/>
<circle cx="316.80" cy="508.10" r="13.60" class="m" fill="#fff"/>
<circle cx="316.8" cy="508.1" r="12" fill="none" stroke="#999" stroke-width="2.4"/>
<circle cx="316.80" cy="508.10" r="10.50" class="m" fill="#fff"/>
<path d="M327,498 A14.5,14.5 0 0 1 327,518" stroke="#444" stroke-width="1" fill="none"/>
<rect x="292.40" y="513.60" width="2.40" height="18.00" rx="0.00" class="s" fill="#fff"/>
<rect x="287.70" y="531.70" width="11.00" height="12.00" rx="4.00" class="s" fill="#ddd"/>
<path d="M362.6,483.2 Q365.2,500 362.6,517" class="s" fill="#fff"/>
<rect x="364.40" y="485.20" width="6.00" height="29.30" rx="0.00" class="s" fill="#fff"/>
<line x1="367.20" y1="485.20" x2="367.20" y2="514.50" class="h"/>
<rect x="364.40" y="495.60" width="6.00" height="8.80" rx="0.00" class="s" fill="#fff"/>
<rect x="287.60" y="541.80" width="57.80" height="4.60" rx="2.30" class="s" fill="#fff"/>
<rect x="295.90" y="546.40" width="42.40" height="7.00" rx="0.00" class="s" fill="#fff"/>
<line x1="306.00" y1="483.40" x2="306.00" y2="508.00" class="t"/>
<line x1="327.40" y1="454.70" x2="327.40" y2="500.00" class="t"/>
<line x1="216.30" y1="507.80" x2="300.30" y2="507.80" class="t"/>
<line x1="510.50" y1="482.30" x2="510.50" y2="518.00" class="t"/>
<line x1="528.60" y1="482.30" x2="528.60" y2="511.00" class="t"/>
<path d="M376.40,557.5 H431.00 Q431.00,563 428.70,565.1 C422.70,568 419.70,572 417.70,573.8 H389.70 C387.70,572 384.70,568 378.70,565.1 Q376.40,563 376.40,557.5 Z" class="s" fill="#fff"/>
<rect x="377.40" y="559.7" width="52.60" height="2.8" fill="#333"/>
<line x1="378.70" y1="565.10" x2="428.70" y2="565.10" class="t"/>
<rect x="392.50" y="573.80" width="22.40" height="5.50" rx="0.00" class="s" fill="#aaa"/>
<line x1="392.50" y1="576.50" x2="414.90" y2="576.50" class="s"/>
<rect x="396.70" y="579.10" width="14.00" height="3.00" rx="0.00" class="s" fill="#fff"/>
<rect x="392.70" y="582.00" width="22.00" height="15.40" rx="2.00" class="s" fill="#fff"/>
<circle cx="392.50" cy="589.40" r="4.20" class="k" fill="#fff"/>
<circle cx="387.50" cy="589.40" r="5.10" class="s" fill="#fff"/>
<circle cx="414.90" cy="589.40" r="4.20" class="k" fill="#fff"/>
<circle cx="419.90" cy="589.40" r="5.10" class="s" fill="#fff"/>
<path d="M394.20,597.4 H413.20 Q412.20,600.8 410.70,600.8 H396.70 Q395.20,600.8 394.20,597.4 Z" fill="#222"/>
<path d="M434.20,557.5 H488.80 Q488.80,563 486.50,565.1 C480.50,568 477.50,572 475.50,573.8 H447.50 C445.50,572 442.50,568 436.50,565.1 Q434.20,563 434.20,557.5 Z" class="s" fill="#fff"/>
<rect x="435.20" y="559.7" width="52.60" height="2.8" fill="#333"/>
<line x1="436.50" y1="565.10" x2="486.50" y2="565.10" class="t"/>
<rect x="450.30" y="573.80" width="22.40" height="5.50" rx="0.00" class="s" fill="#aaa"/>
<line x1="450.30" y1="576.50" x2="472.70" y2="576.50" class="s"/>
<rect x="454.50" y="579.10" width="14.00" height="3.00" rx="0.00" class="s" fill="#fff"/>
<rect x="450.50" y="582.00" width="22.00" height="15.40" rx="2.00" class="s" fill="#fff"/>
<circle cx="450.30" cy="589.40" r="4.20" class="k" fill="#fff"/>
<circle cx="445.30" cy="589.40" r="5.10" class="s" fill="#fff"/>
<circle cx="472.70" cy="589.40" r="4.20" class="k" fill="#fff"/>
<circle cx="477.70" cy="589.40" r="5.10" class="s" fill="#fff"/>
<path d="M452.00,597.4 H471.00 Q470.00,600.8 468.50,600.8 H454.50 Q453.00,600.8 452.00,597.4 Z" fill="#222"/>
<path d="M492.20,557.5 H546.80 Q546.80,563 544.50,565.1 C538.50,568 535.50,572 533.50,573.8 H505.50 C503.50,572 500.50,568 494.50,565.1 Q492.20,563 492.20,557.5 Z" class="s" fill="#fff"/>
<rect x="493.20" y="559.7" width="52.60" height="2.8" fill="#333"/>
<line x1="494.50" y1="565.10" x2="544.50" y2="565.10" class="t"/>
<rect x="508.30" y="573.80" width="22.40" height="5.50" rx="0.00" class="s" fill="#aaa"/>
<line x1="508.30" y1="576.50" x2="530.70" y2="576.50" class="s"/>
<rect x="512.50" y="579.10" width="14.00" height="3.00" rx="0.00" class="s" fill="#fff"/>
<rect x="508.50" y="582.00" width="22.00" height="15.40" rx="2.00" class="s" fill="#fff"/>
<circle cx="508.30" cy="589.40" r="4.20" class="k" fill="#fff"/>
<circle cx="503.30" cy="589.40" r="5.10" class="s" fill="#fff"/>
<circle cx="530.70" cy="589.40" r="4.20" class="k" fill="#fff"/>
<circle cx="535.70" cy="589.40" r="5.10" class="s" fill="#fff"/>
<path d="M510.00,597.4 H529.00 Q528.00,600.8 526.50,600.8 H512.50 Q511.00,600.8 510.00,597.4 Z" fill="#222"/>
<rect x="295.40" y="552.60" width="42.90" height="8.50" rx="2.00" class="s" fill="#fff"/>
<path d="M298.3,561.1 V575 Q298.3,580.6 304,580.6 H330.6 Q336,580.6 336,575 V561.1 Z" class="s" fill="#fff"/>
<line x1="298.30" y1="566.30" x2="336.00" y2="566.30" class="t"/>
<line x1="298.30" y1="576.60" x2="336.00" y2="576.60" class="t"/>
<circle cx="317.10" cy="571.10" r="3.40" class="s" fill="#fff"/>
<path d="M302.9,580.6 H330.3 Q329,586.3 322,586.3 H311 Q304,586.3 302.9,580.6 Z" fill="#444"/>
<line x1="311.50" y1="586.30" x2="311.50" y2="591.40" class="t"/>
<line x1="322.00" y1="586.30" x2="322.00" y2="591.40" class="t"/>
<rect x="306.30" y="591.40" width="20.60" height="14.30" rx="2.00" class="s" fill="#fff"/>
<circle cx="306.00" cy="598.30" r="4.40" class="k" fill="#fff"/>
<circle cx="300.80" cy="598.30" r="5.50" class="s" fill="#fff"/>
<circle cx="327.60" cy="598.30" r="4.40" class="k" fill="#fff"/>
<circle cx="332.80" cy="598.30" r="5.50" class="s" fill="#fff"/>
<path d="M307.4,605.7 H325.7 Q325,609.1 322,609.1 H311 Q308,609.1 307.4,605.7 Z" fill="#222"/>
<rect x="243" y="555.2" width="339.3" height="2.5" fill="#888" stroke="#222" stroke-width="0.9"/>
</svg></body></html>
